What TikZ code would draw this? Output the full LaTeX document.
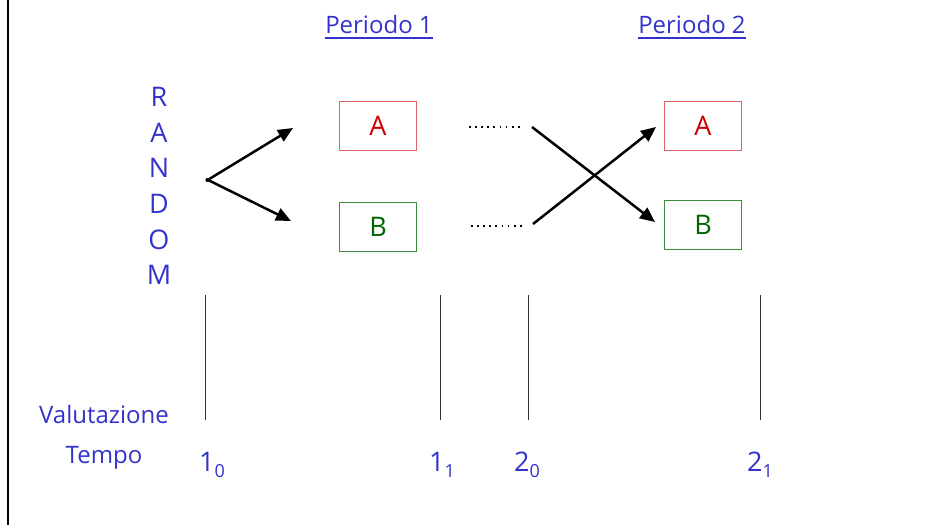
\documentclass[tikz,border=0pt]{standalone}
\usepackage{fontspec}
\setmainfont{Open Sans}
\usetikzlibrary{arrows.meta}
\definecolor{txtblue}{RGB}{51,51,204}
\definecolor{boxred}{RGB}{224,100,100}
\definecolor{txtred}{RGB}{204,0,0}
\definecolor{boxgreen}{RGB}{60,140,60}
\definecolor{txtgreen}{RGB}{0,102,0}
\newcommand\sublab[2]{#1\raisebox{-6pt}{\fontsize{18}{18}\selectfont #2}}
\begin{document}
\begin{tikzpicture}[x=1pt,y=-1pt,
  bluetxt/.style={text=txtblue,inner sep=0pt,font=\fontsize{24}{28}\selectfont},
  rnd/.style={text=txtblue,inner sep=0pt,font=\fontsize{27}{30}\selectfont},
  abox/.style={draw=boxred,line width=1pt,minimum width=77pt,minimum height=49pt,inner sep=0pt,text=txtred,font=\fontsize{27}{30}\selectfont},
  bbox/.style={draw=boxgreen,line width=1pt,minimum width=77pt,minimum height=49pt,inner sep=0pt,text=txtgreen,font=\fontsize{27}{30}\selectfont},
  arr/.style={line width=2.5pt,-{Triangle[length=15pt,width=13pt]}},
  dots/.style={line width=1.8pt,dash pattern=on 1.8pt off 4.3pt},
  tick/.style={line width=1pt,draw=black!80},
  num/.style={text=txtblue,inner sep=0pt,anchor=base west,font=\fontsize{27}{30}\selectfont}]
\useasboundingbox (0,0) rectangle (952,525);
% left border
\coordinate (bt) at (8,0);
\coordinate (bb) at (8,525);
\draw[line width=2.5pt] (bt) -- (bb);
% titles
\node[bluetxt,anchor=base] (p1) at (379,33) {Periodo 1};
\node[bluetxt,anchor=base] (p2) at (692,33) {Periodo 2};
\draw[txtblue,line width=2.8pt] ([yshift=-5pt]p1.base west) -- ([yshift=-5pt]p1.base east);
\draw[txtblue,line width=2.8pt] ([yshift=-5pt]p2.base west) -- ([yshift=-5pt]p2.base east);
% RANDOM
\foreach \l [count=\i] in {R,A,N,D,O,M}
  \node[rnd] (r\i) at (159,{97+35.6*(\i-1)}) {\l};
% boxes
\node[abox] (a1) at (378,126) {A};
\node[bbox] (b1) at (378,227) {B};
\node[abox] (a2) at (703,126) {A};
\node[bbox] (b2) at (703,225) {B};
% first arrows
\coordinate (src) at (206,180);
\coordinate (t1) at (293,128);
\coordinate (t2) at (291,221);
\draw[arr] ([yshift=-1pt]src) -- (t1);
\draw[arr] ([yshift=1pt]src) -- (t2);
% dots
\coordinate (d1s) at (469,127);
\coordinate (d1e) at (520,127);
\coordinate (d2s) at (471,226);
\coordinate (d2e) at (522,226);
\draw[dots] (d1s) -- (d1e);
\draw[dots] (d2s) -- (d2e);
% cross arrows
\coordinate (c1) at (532,127);
\coordinate (c2) at (533,224);
\coordinate (e1) at (655,222);
\coordinate (e2) at (656,127);
\draw[arr] (c1) -- (e1);
\draw[arr] (c2) -- (e2);
% vertical ticks
\foreach \x [count=\i] in {205,440,528,760}{
  \coordinate (vt\i) at (\x,295);
  \coordinate (vb\i) at (\x,420);
  \draw[tick] (vt\i) -- (vb\i);
}
% labels
\node[bluetxt,anchor=base] (val) at (104,423) {Valutazione};
\node[bluetxt,anchor=base] (tem) at (104,463) {Tempo};
\node[num] (n10) at (199,471) {\sublab{1}{0}};
\node[num] (n11) at (429,471) {\sublab{1}{1}};
\node[num] (n20) at (514,471) {\sublab{2}{0}};
\node[num] (n21) at (747,471) {\sublab{2}{1}};
\end{tikzpicture}
\end{document}
